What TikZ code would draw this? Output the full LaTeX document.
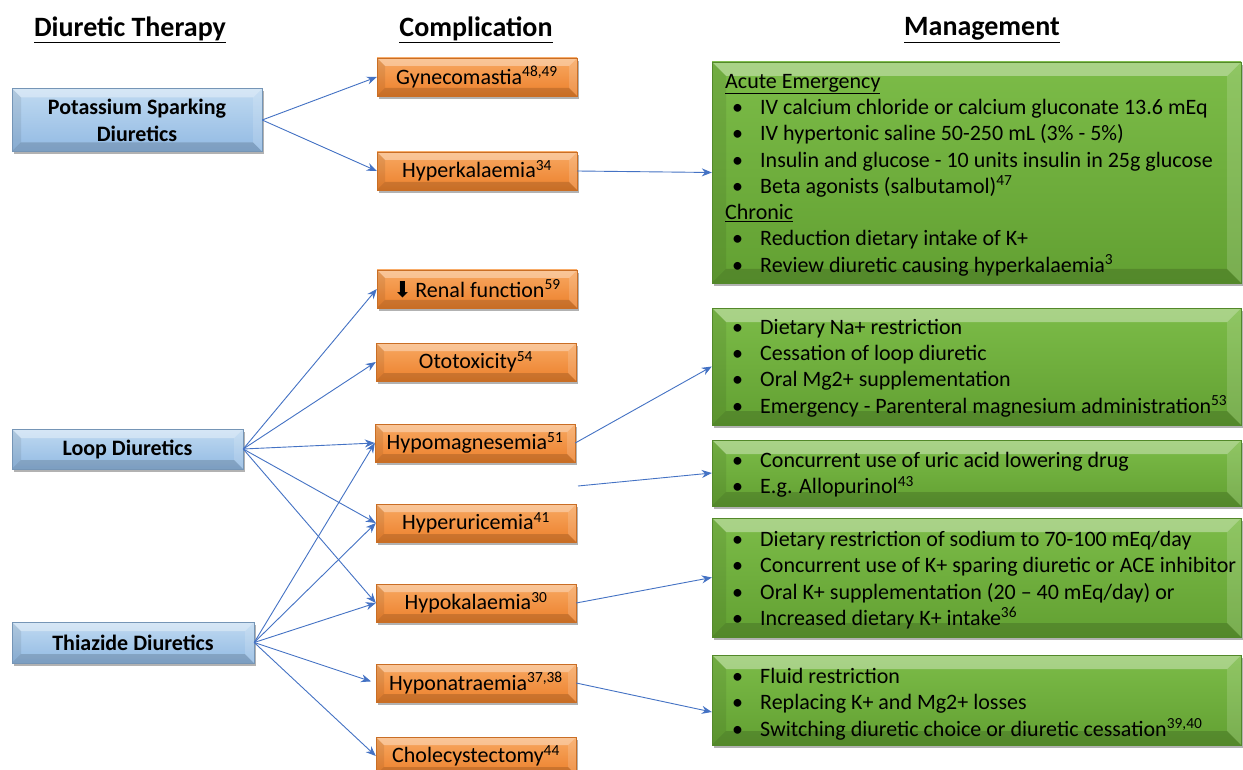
\documentclass[tikz,border=0pt]{standalone}
\usepackage{fontspec}
\setmainfont{Carlito}
\newfontfamily\symfont{DejaVu Sans}
\usetikzlibrary{arrows.meta,shadows}
\definecolor{arrowblue}{HTML}{4472C4}
\definecolor{blueT}{HTML}{C0DAF1}
\definecolor{blueB}{HTML}{92BAE3}
\definecolor{orangeT}{HTML}{F8A862}
\definecolor{orangeB}{HTML}{EC812C}
\definecolor{greenT}{HTML}{7CBC48}
\definecolor{greenB}{HTML}{62A032}
\newcommand{\bl}[1]{\makebox[35pt][l]{\hspace{7pt}\textbullet}#1}
\tikzset{
  bev/.style={path picture={
    \fill[white,fill opacity=0.35] (path picture bounding box.north west) -- (path picture bounding box.north east)
      -- ([xshift=-#1pt,yshift=-#1pt]path picture bounding box.north east) -- ([xshift=#1pt,yshift=-#1pt]path picture bounding box.north west) -- cycle;
    \fill[black,fill opacity=0.15] (path picture bounding box.south west) -- (path picture bounding box.south east)
      -- ([xshift=-#1pt,yshift=#1pt]path picture bounding box.south east) -- ([xshift=#1pt,yshift=#1pt]path picture bounding box.south west) -- cycle;
    \fill[black,fill opacity=0.08] (path picture bounding box.south west) -- (path picture bounding box.north west)
      -- ([xshift=#1pt,yshift=-#1pt]path picture bounding box.north west) -- ([xshift=#1pt,yshift=#1pt]path picture bounding box.south west) -- cycle;
    \fill[white,fill opacity=0.15] (path picture bounding box.south east) -- (path picture bounding box.north east)
      -- ([xshift=-#1pt,yshift=-#1pt]path picture bounding box.north east) -- ([xshift=-#1pt,yshift=#1pt]path picture bounding box.south east) -- cycle;
  }},
  shad/.style={drop shadow={opacity=0.3,shadow xshift=1.5pt,shadow yshift=-3pt,fill=black}},
  bluebox/.style={rectangle, shad, top color=blueT, bottom color=blueB, draw=blueB!80!black, line width=0.4pt, bev=9,
    font=\fontsize{22}{27}\selectfont\bfseries, align=center, inner sep=0pt},
  orangebox/.style={rectangle, shad, top color=orangeT, bottom color=orangeB, draw=orangeB!85!black, line width=0.4pt, bev=8,
    minimum width=200pt, minimum height=38pt, font=\fontsize{22}{24}\selectfont, inner sep=0pt},
  greenbox/.style={rectangle, shad, top color=greenT, bottom color=greenB, draw=greenB!85!black, line width=0.4pt, bev=14,
    minimum width=529pt, inner sep=0pt},
  gtext/.style={anchor=west, align=left, inner sep=0pt, font=\fontsize{22}{26.3}\selectfont},
  hdr/.style={font=\fontsize{28}{30}\selectfont\bfseries, inner sep=0pt},
  arr/.style={draw=arrowblue, line width=0.9pt, -{Stealth[length=10pt,width=8pt]}},
}
\begin{document}
\begin{tikzpicture}[x=1pt,y=-1pt]
\useasboundingbox[fill=white] (0,0) rectangle (1243,770);

% headers
\node[hdr] (h1) at (130,30) {\underline{Diuretic Therapy}};
\node[hdr] (h2) at (476,30) {\underline{Complication}};
\node[hdr] (h3) at (982,30) {\underline{Management}};

% diuretics
\node[bluebox, minimum width=250pt, minimum height=63pt] (ps) at (137,120) {Potassium Sparking\\Diuretics};
\node[bluebox, minimum width=231pt, minimum height=40pt] (loop) at (127.5,449) {Loop Diuretics};
\node[bluebox, minimum width=242pt, minimum height=41pt] (thz) at (133,642.5) {Thiazide Diuretics};

% complications
\node[orangebox] (gyn) at (477,77) {Gynecomastia\textsuperscript{48,49}};
\node[orangebox] (hyperk) at (477,171) {Hyperkalaemia\textsuperscript{34}};
\node[orangebox] (renal) at (477,289) {{\symfont ⬇}\,Renal function\textsuperscript{59}};
\node[orangebox] (oto) at (476,362) {Ototoxicity\textsuperscript{54}};
\node[orangebox] (hypomag) at (475,443) {Hypomagnesemia\textsuperscript{51}};
\node[orangebox] (hyperu) at (476,523) {Hyperuricemia\textsuperscript{41}};
\node[orangebox] (hypok) at (476,603) {Hypokalaemia\textsuperscript{30}};
\node[orangebox] (hypona) at (476,683) {Hyponatraemia\textsuperscript{37,38}};
\node[orangebox] (chole) at (476,756) {Cholecystectomy\textsuperscript{44}};

% management
\node[greenbox, minimum height=221pt] (g1) at (976.5,172.5) {};
\node[gtext] (g1t) at (725,175) {\underline{Acute Emergency}\\
\bl{IV calcium chloride or calcium gluconate 13.6 mEq}\\
\bl{IV hypertonic saline 50-250 mL (3\% - 5\%)}\\
\bl{Insulin and glucose - 10 units insulin in 25g glucose}\\
\bl{Beta agonists (salbutamol)\textsuperscript{47}}\\
\underline{Chronic}\\
\bl{Reduction dietary intake of K+}\\
\bl{Review diuretic causing hyperkalaemia\textsuperscript{3}}};

\node[greenbox, minimum height=117pt] (g2) at (976.5,366.5) {};
\node[gtext] (g2t) at (725,368) {\bl{Dietary Na+ restriction}\\
\bl{Cessation of loop diuretic}\\
\bl{Oral Mg2+ supplementation}\\
\bl{Emergency - Parenteral magnesium administration\textsuperscript{53}}};

\node[greenbox, minimum height=66pt] (g3) at (976.5,473) {};
\node[gtext] (g3t) at (725,475) {\bl{Concurrent use of uric acid lowering drug}\\
\bl{E.g. Allopurinol\textsuperscript{43}}};

\node[greenbox, minimum height=119pt] (g4) at (976.5,577.5) {};
\node[gtext] (g4t) at (725,580) {\bl{Dietary restriction of sodium to 70-100 mEq/day}\\
\bl{Concurrent use of K+ sparing diuretic or ACE inhibitor}\\
\bl{Oral K+ supplementation (20 – 40 mEq/day) or}\\
\bl{Increased dietary K+ intake\textsuperscript{36}}};

\node[greenbox, minimum height=90pt] (g5) at (976.5,700) {};
\node[gtext] (g5t) at (725,704) {\bl{Fluid restriction}\\
\bl{Replacing K+ and Mg2+ losses}\\
\bl{Switching diuretic choice or diuretic cessation\textsuperscript{39,40}}};

% connectors
\draw[arr] (ps.east) -- (gyn.west);
\draw[arr] (ps.east) -- (hyperk.west);
\draw[arr] (hyperk.east) -- (g1.west);

\draw[arr] (loop.east) -- (renal.west);
\draw[arr] (loop.east) -- (oto.west);
\draw[arr] (loop.east) -- (hypomag.west);
\draw[arr] (loop.east) -- (hyperu.west);
\draw[arr] (loop.east) -- (hypok.west);

\draw[arr] (thz.east) -- (hypomag.west);
\draw[arr] (thz.east) -- (hyperu.west);
\draw[arr] (thz.east) -- (hypok.west);
\draw[arr, shorten >=5pt] (thz.east) -- (hypona.west);
\draw[arr] (thz.east) -- (chole.west);

\draw[arr] (hypomag.east) -- (g2.west);
\coordinate (hufree) at (578,486);
\draw[arr] (hufree) -- (g3.west);
\draw[arr] (hypok.east) -- (g4.west);
\draw[arr] (hypona.east) -- ([yshift=-12pt]g5.west);
\end{tikzpicture}
\end{document}
